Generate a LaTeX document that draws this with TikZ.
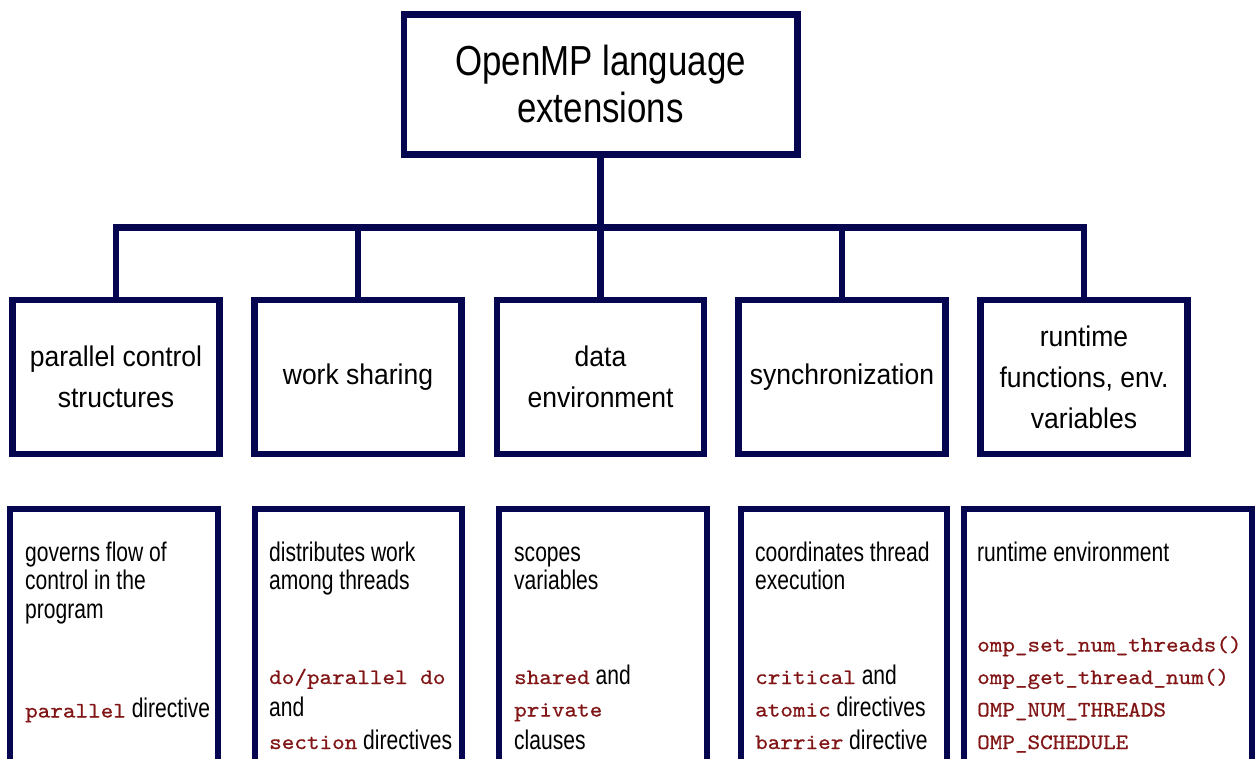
\documentclass[tikz,border=0pt]{standalone}
\usepackage{fontspec}
\setmainfont{Liberation Sans}
\newfontfamily\headfont[FakeStretch=0.83]{Liberation Sans}
\newfontfamily\catfont[FakeStretch=0.93]{Liberation Sans}
\newfontfamily\notefont[FakeStretch=0.78]{Liberation Sans}
\newfontfamily\codefont[FakeStretch=1.09,FakeBold=0.7]{lmmono10-regular.otf}
\definecolor{framenavy}{RGB}{5,5,80}
\definecolor{codered}{RGB}{130,22,22}
% inline code in the description boxes
\newcommand\code[1]{{\codefont\fontsize{22}{28}\selectfont\color{codered}#1}}
\begin{document}
\begin{tikzpicture}[x=1pt,y=-1pt,
  frame/.style={draw=framenavy,line width=6.5pt,outer sep=0pt,inner sep=0pt,fill=white},
  link/.style={draw=framenavy,line width=6.5pt},
  head/.style={font=\headfont\fontsize{42}{47}\selectfont,align=center,text=black},
  cat/.style={font=\catfont\fontsize{28.5}{41}\selectfont,align=center,text=black,
              minimum width=207,minimum height=154},
  descbox/.style={minimum height=291},
  note/.style={anchor=base west,inner sep=0pt,text=black,
               font=\notefont\fontsize{27}{28}\selectfont},
]
\clip (0,0) rectangle (1256,758);
\fill[white] (0,0) rectangle (1256,758);

% root
\node[frame,head,minimum width=393.5,minimum height=140] (root) at (600.5,84.4)
  {OpenMP language\\extensions};

% categories
\node[frame,cat] (c1) at (116,377) {parallel control\\structures};
\node[frame,cat] (c2) at (358,377) {\raisebox{-3pt}{work sharing}};
\node[frame,cat] (c3) at (600.5,377) {data\\environment};
\node[frame,cat] (c4) at (842,377) {\raisebox{-3pt}{synchronization}};
\node[frame,cat] (c5) at (1084,377) {runtime\\functions, env.\\variables};

% tree connectors
\coordinate (hub) at (600.5,227.5);
\draw[link] (root.south) -- (hub);
\foreach \c in {c1,c2,c3,c4,c5}
  \draw[link] (\c.north) |- (hub);

% description boxes
\node[frame,descbox,minimum width=208] (d1) at (114,654.5) {};
\node[frame,descbox,minimum width=207] (d2) at (358.5,654.5) {};
\node[frame,descbox,minimum width=208] (d3) at (603,654.5) {};
\node[frame,descbox,minimum width=206] (d4) at (844,654.5) {};
\node[frame,descbox,minimum width=288] (d5) at (1108,654.5) {};

% descriptions
\node[note] (n1a) at (25,561) {governs flow of};
\node[note] (n1b) at (25,589.5) {control in the};
\node[note] (n1c) at (25,618) {program};
\node[note] (n1d) at (25,717.5) {\code{parallel} directive};

\node[note] (n2a) at (269,561) {distributes work};
\node[note] (n2b) at (269,589.5) {among threads};
\node[note] (n2c) at (269,684) {\code{do/parallel do}};
\node[note] (n2d) at (269,716.5) {and};
\node[note] (n2e) at (269,749) {\code{section} directives};

\node[note] (n3a) at (514,561) {scopes};
\node[note] (n3b) at (514,589.5) {variables};
\node[note] (n3c) at (514,684) {\code{shared} and};
\node[note] (n3d) at (514,716.5) {\code{private}};
\node[note] (n3e) at (514,749) {clauses};

\node[note] (n4a) at (755,561) {coordinates thread};
\node[note] (n4b) at (755,589.5) {execution};
\node[note] (n4c) at (755,684) {\code{critical} and};
\node[note] (n4d) at (755,716.5) {\code{atomic} directives};
\node[note] (n4e) at (755,749) {\code{barrier} directive};

\node[note] (n5a) at (977,561) {runtime environment};
\node[note] (n5b) at (977,651.5) {\code{omp\_set\_num\_threads()}};
\node[note] (n5c) at (977,684) {\code{omp\_get\_thread\_num()}};
\node[note] (n5d) at (977,716.5) {\code{OMP\_NUM\_THREADS}};
\node[note] (n5e) at (977,749) {\code{OMP\_SCHEDULE}};
\end{tikzpicture}
\end{document}
